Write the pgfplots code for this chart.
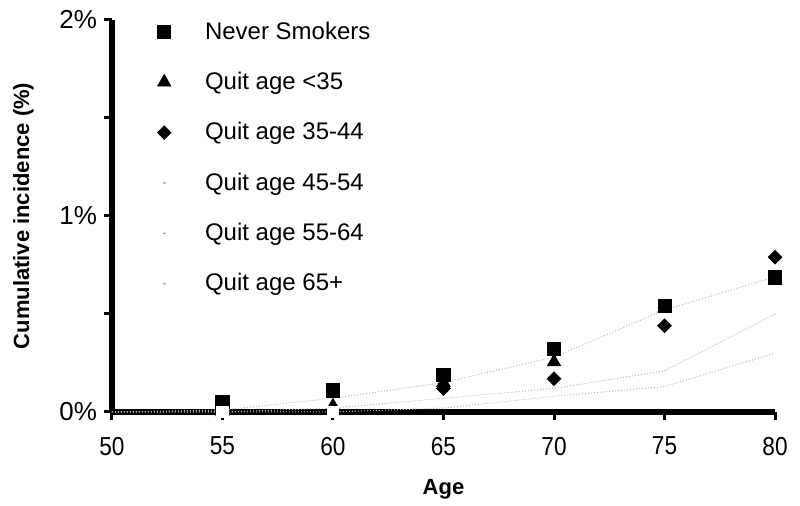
\documentclass[border=0pt]{standalone}
\usepackage{fontspec}
\setmainfont{Liberation Sans}
\usepackage{pgfplots}
\pgfplotsset{compat=1.18}

\begin{document}
\begin{tikzpicture}
\begin{axis}[
    width=331.5pt, height=196pt, scale only axis,
    xmin=50, xmax=80, ymin=0, ymax=2,
    axis lines=left,
    axis line style={-, line width=2.8pt, black},
    clip=false,
    xtick={50,55,...,80},
    xticklabel={\scalebox{0.87}[1]{\pgfmathprintnumber{\tick}}},
    ytick={0,0.5,1,1.5,2},
    yticklabels={0\%,,1\%,,2\%},
    tick align=outside,
    major tick length=4pt,
    tick style={line width=1.5pt, black},
    tick label style={font=\fontsize{13}{15}\selectfont},
    xticklabel style={yshift=-5pt},
    /pgf/number format/assume math mode=true,
    xlabel={\textbf{Age}},
    ylabel={\textbf{Cumulative incidence (\%)}},
    label style={font=\fontsize{11}{13}\selectfont},
    xlabel style={yshift=-5pt},
    ylabel style={yshift=6pt},
    legend style={draw=none, fill=none, inner sep=0pt,
        at={(0.068,1.007)}, anchor=north west,
        font=\fontsize{12}{14}\selectfont,
        row sep=11pt, column sep=15pt},
    legend cell align=left,
]

% Never smokers
\addplot[only marks, mark=square*, mark size=3.3pt, black] coordinates {
(55,0.05) (60,0.11) (65,0.19) (70,0.32) (75,0.54) (80,0.69)
};
\addlegendentry{Never Smokers}

% quit < 35
\addplot[only marks, mark=triangle*, mark size=3.8pt, black] coordinates {
(55,0.0) (60,0.03) (65,0.15) (70,0.255) (75,0.53) (80,0.67)
};
\addlegendentry{Quit age <35}

% quit 35-44
\addplot[only marks, mark=square*, mark options={rotate=45}, mark size=2.4pt, black] coordinates {
(55,0.0) (60,0.0) (65,0.12) (70,0.17) (75,0.44) (80,0.79)
};
\addlegendentry{Quit age 35-44}

% faint series
\addplot[densely dotted, black!28, line width=0.5pt,
    legend image code/.code={\fill[black!30] (0.3cm,0cm) circle (0.6pt);}]
coordinates {
(50,0) (55,0.01) (60,0.07) (65,0.15) (70,0.28) (75,0.52) (80,0.69)
};
\addlegendentry{Quit age 45-54}

\addplot[densely dotted, black!28, line width=0.5pt,
    legend image code/.code={\fill[black!30] (0.3cm,0cm) circle (0.6pt);}]
coordinates {
(50,0) (55,0) (60,0.02) (65,0.07) (70,0.12) (75,0.21) (80,0.50)
};
\addlegendentry{Quit age 55-64}

\addplot[densely dotted, black!28, line width=0.5pt,
    legend image code/.code={\fill[black!30] (0.3cm,0cm) circle (0.6pt);}]
coordinates {
(50,0) (55,0) (60,0) (65,0.02) (70,0.08) (75,0.13) (80,0.30)
};
\addlegendentry{Quit age 65+}

% white breaks in the x axis line
\addplot[only marks, mark=square*, mark size=2.8pt, white, forget plot]
coordinates {(55,0) (60,0)};

\path (rel axis cs:-0.1689,-0.2347) (rel axis cs:1.0377,1.051);
\end{axis}
\end{tikzpicture}
\end{document}
